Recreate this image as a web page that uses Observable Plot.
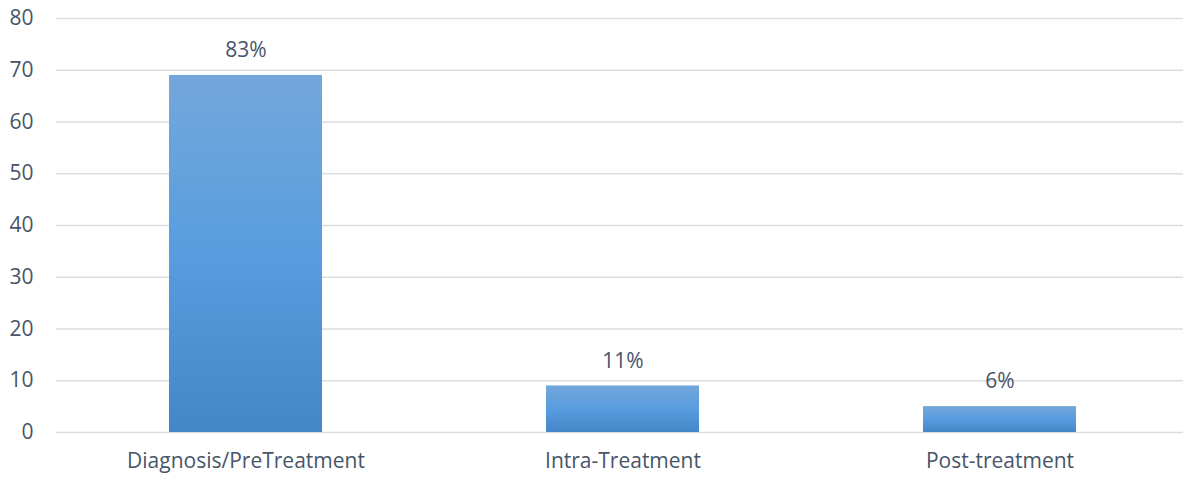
<!DOCTYPE html>
<html>
<head>
<meta charset="utf-8">
<script src="https://cdn.jsdelivr.net/npm/d3@7"></script>
<script src="https://cdn.jsdelivr.net/npm/@observablehq/plot@0.6"></script>
<style>
  html, body { margin: 0; padding: 0; background: #fff; }
  #chart { width: 1183px; height: 477px; }
</style>
</head>
<body>
<div id="chart"></div>
<script>
const categories = ["Diagnosis/PreTreatment", "Intra-Treatment", "Post-treatment"];
const values = [69, 9, 5];
const labels = ["83%", "11%", "6%"];
const yTicks = [0, 10, 20, 30, 40, 50, 60, 70, 80];

const data = categories.map((c, i) => ({category: c, value: values[i], label: labels[i]}));

const textColor = "#475569";
const font = "'Open Sans', sans-serif";

const chart = Plot.plot({
  width: 1183,
  height: 477,
  marginLeft: 56,
  marginRight: 0,
  marginTop: 18,
  marginBottom: 45,
  style: {fontFamily: font, fontSize: "21px", color: textColor, background: "#fff"},
  x: {domain: categories, paddingInner: 0.595, paddingOuter: 0.2975, range: [56, 1188], label: null},
  y: {domain: [0, 80], ticks: yTicks, label: null},
  marks: [
    Plot.ruleY(yTicks, {stroke: "#d9dee5", strokeWidth: 1.6}),
    Plot.axisY({ticks: yTicks, tickSize: 0, tickPadding: 23, label: null, fontSize: 21, fill: textColor}),
    Plot.axisX({tickSize: 0, tickPadding: 21, label: null, fontSize: 21, fill: textColor}),
    Plot.barY(data, {x: "category", y: "value", fill: "url(#barGrad)"}),
    Plot.text(data, {x: "category", y: "value", text: "label", dy: -25, fontSize: 21, fill: textColor})
  ]
});

// Gradient definition for bars
const ns = "http://www.w3.org/2000/svg";
const defs = document.createElementNS(ns, "defs");
const grad = document.createElementNS(ns, "linearGradient");
grad.setAttribute("id", "barGrad");
grad.setAttribute("x1", "0"); grad.setAttribute("y1", "0");
grad.setAttribute("x2", "0"); grad.setAttribute("y2", "1");
[["0%", "#74a7db"], ["50%", "#589ddf"], ["100%", "#4487c8"]].forEach(([o, c]) => {
  const s = document.createElementNS(ns, "stop");
  s.setAttribute("offset", o);
  s.setAttribute("stop-color", c);
  grad.appendChild(s);
});
defs.appendChild(grad);
chart.insertBefore(defs, chart.firstChild);

document.getElementById("chart").appendChild(chart);
</script>
</body>
</html>
